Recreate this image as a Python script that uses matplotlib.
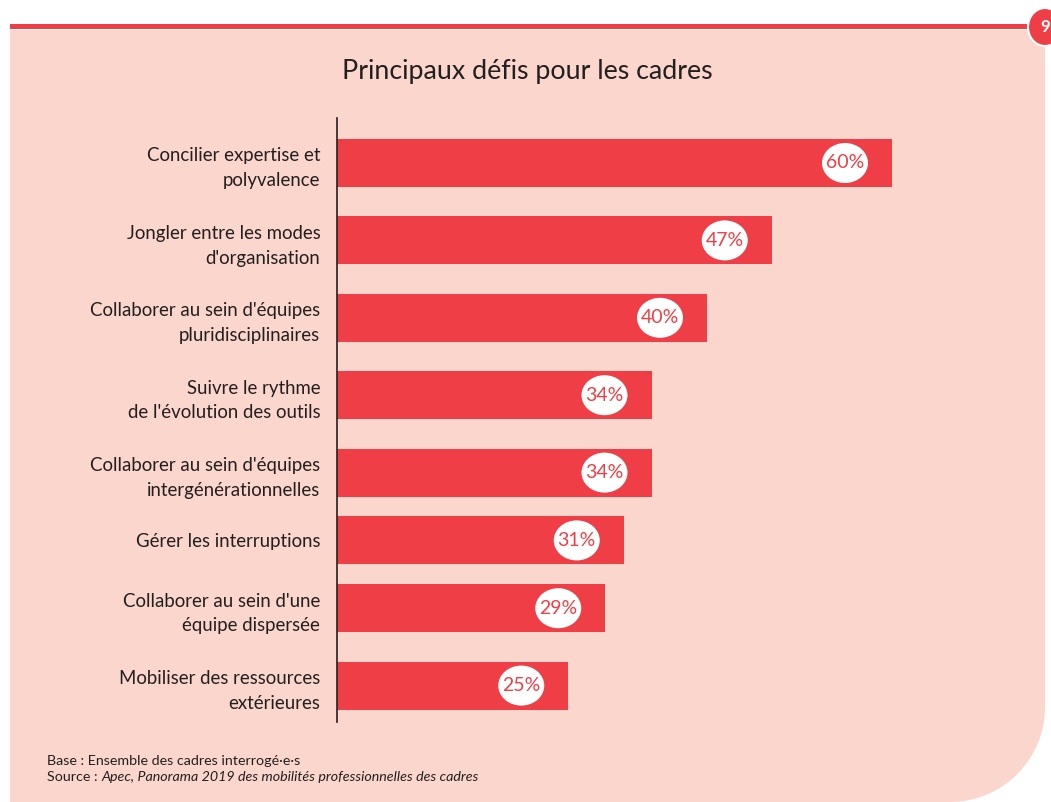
import matplotlib.pyplot as plt
import numpy as np
from matplotlib.patches import Ellipse, Rectangle, PathPatch
from matplotlib.path import Path

plt.rcParams['font.family'] = ['Lato', 'DejaVu Sans']

# Data
labels = [
    "Concilier expertise et\npolyvalence",
    "Jongler entre les modes\nd'organisation",
    "Collaborer au sein d'équipes\npluridisciplinaires",
    "Suivre le rythme\nde l'évolution des outils",
    "Collaborer au sein d'équipes\nintergénérationnelles",
    "Gérer les interruptions",
    "Collaborer au sein d'une\néquipe dispersée",
    "Mobiliser des ressources\nextérieures",
]
values = [60, 47, 40, 34, 34, 31, 29, 25]

RED = '#EF3E45'
PINK = '#FBD6CC'
W, H = 1051, 802

fig = plt.figure(figsize=(W / 100, H / 100), dpi=100)
fig.patch.set_facecolor('white')

# pink panel with rounded bottom-right corner (pixel coords -> figure fraction)
def fx(x): return x / W
def fy(y): return 1 - y / H

r = 95
k = 0.5523
verts = [
    (fx(10), fy(30)), (fx(1045), fy(30)), (fx(1045), fy(H - r)),
    (fx(1045), fy(H - r + k * r)), (fx(1045 - r + k * r), fy(H)), (fx(1045 - r), fy(H)),
    (fx(10), fy(H)), (fx(10), fy(30)),
]
codes = [Path.MOVETO, Path.LINETO, Path.LINETO,
         Path.CURVE4, Path.CURVE4, Path.CURVE4,
         Path.LINETO, Path.CLOSEPOLY]
fig.patches.append(PathPatch(Path(verts, codes), transform=fig.transFigure,
                             facecolor=PINK, edgecolor='none', zorder=-2))
# top red rule
fig.patches.append(Rectangle((fx(10), fy(29)), fx(1030) - fx(10), 5 / H,
                             transform=fig.transFigure, facecolor=RED,
                             edgecolor='none', zorder=-1))

# main axes, y in pixels; row gap grows with the number of label lines
px_per_unit = 9.25
ax_h = 604
ax = fig.add_axes([fx(337), fy(722), 663 / W, ax_h / H])
ax.set_facecolor('none')
nlines = np.array([lab.count('\n') + 1 for lab in labels])
gaps = 39 + 9.6 * (nlines[:-1] + nlines[1:])
ypos = 45 + np.concatenate([[0], np.cumsum(gaps)])

ax.barh(ypos, values, height=48, color=RED, zorder=2)
ax.set_xlim(0, 663 / px_per_unit)
ax.set_ylim(ax_h, 0)

for y, v in zip(ypos, values):
    cx = v - 47 / px_per_unit
    ax.add_patch(Ellipse((cx, y), 46 / px_per_unit, 40,
                         facecolor='white', edgecolor='none', zorder=3))
    ax.text(cx, y, f'{v}%', color=RED, fontsize=14, ha='center',
            va='center', zorder=4)

ax.set_yticks(ypos)
ax.set_yticklabels(labels, fontsize=13.4, color='#231F20', linespacing=1.55)
ax.tick_params(axis='y', length=0, pad=12)
ax.set_xticks([])
for s in ['top', 'right', 'bottom']:
    ax.spines[s].set_visible(False)
ax.spines['left'].set_color('#231F20')
ax.spines['left'].set_linewidth(1.2)

# page number badge
badge = fig.add_axes([fx(1020), fy(48), 50 / W, 42 / H])
badge.set_xlim(0, 50)
badge.set_ylim(0, 42)
badge.axis('off')
badge.add_patch(Ellipse((25, 21), 34, 38, facecolor=RED, edgecolor='white', lw=1.5))
badge.text(25, 21, '9', color='white', fontsize=12, fontweight='bold',
           ha='center', va='center')

fig.text(fx(527), fy(72), 'Principaux défis pour les cadres', fontsize=19.3,
         ha='center', va='center', color='#231F20')

fig.text(fx(47), fy(761), 'Base : Ensemble des cadres interrogé·e·s',
         fontsize=10.3, va='center', color='#231F20')
t1 = fig.text(fx(47), fy(777), 'Source : ', fontsize=10.3, va='center', color='#231F20')
ax.annotate('Apec, Panorama 2019 des mobilités professionnelles des cadres',
            xy=(1, 0.5), xycoords=t1, va='center', ha='left',
            fontsize=10.3, style='italic', color='#231F20', annotation_clip=False)

fig.savefig('out.png', dpi=100)
